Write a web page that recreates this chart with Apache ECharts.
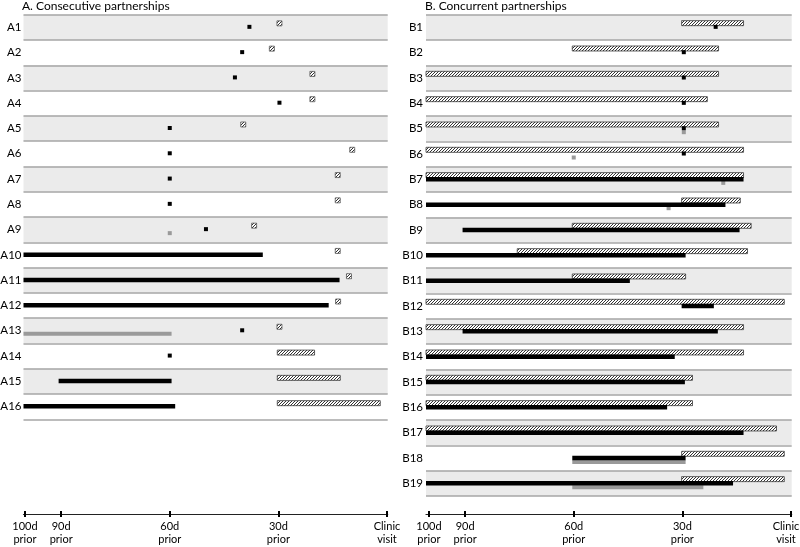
<!DOCTYPE html>
<html>
<head>
<meta charset="utf-8">
<script src="https://cdn.jsdelivr.net/npm/echarts@6/dist/echarts.min.js"></script>
<style>html,body{margin:0;padding:0;background:#fff;}#c{width:800px;height:547px;}</style>
</head>
<body>
<div id="c"></div>
<script>
// ---- Data (days before clinic visit) ----
const rowsA = ['A1','A2','A3','A4','A5','A6','A7','A8','A9','A10','A11','A12','A13','A14','A15','A16'];
const rowsB = ['B1','B2','B3','B4','B5','B6','B7','B8','B9','B10','B11','B12','B13','B14','B15','B16','B17','B18','B19'];
const tickDays = [100, 90, 60, 30, 0];
const tickLabels = ['100d\nprior', '90d\nprior', '60d\nprior', '30d\nprior', 'Clinic\nvisit'];

// Panel A
const blackSquaresA = [['A1',38],['A2',40],['A3',42],['A4',29.7],['A5',60],['A6',60],['A7',60],['A8',60],['A9',50],['A13',40],['A14',60]];
const graySquaresA = [['A9',60]];
const hatchSquaresA = [['A1',29.7],['A2',31.8],['A3',20.6],['A4',20.6],['A5',39.7],['A6',9.6],['A7',13.6],['A8',13.6],['A9',36.7],['A10',13.6],['A11',10.5],['A12',13.5],['A13',29.7]];
const blackBarsA = [['A10',100.4,34.3],['A11',100.4,13.1],['A12',100.4,16.1],['A15',90.7,59.5],['A16',100.4,58.5]];
const grayBarsA = [['A13',100.4,59.5]];
const hatchBarsA = [['A14',30.3,20],['A15',30.3,12.9],['A16',30.3,1.85]];

// Panel B
const blackSquaresB = [['B1',20.8],['B2',29.6],['B3',29.6],['B4',29.6],['B5',29.6],['B6',29.6]];
const graySquaresB = [['B5',29.6],['B6',60],['B7',18.7],['B8',33.8]];
const hatchBarsB = [['B1',30.2,13.1],['B2',60.4,20],['B3',100.8,20],['B4',100.8,23.1],['B5',100.8,20],['B6',100.8,13.1],['B7',100.8,13.1],['B8',30.2,14],['B9',60.4,11],['B10',75.6,12],['B11',60.4,29.1],['B12',100.8,1.85],['B13',100.8,13.1],['B14',100.8,13.1],['B15',100.8,27.2],['B16',100.8,27.2],['B17',100.8,4],['B18',30.2,1.85],['B19',30.2,1.85]];
const blackBarsB = [['B7',100.8,13.1],['B8',100.8,18.1],['B9',90.7,14.2],['B10',100.8,29.1],['B11',100.8,44.5],['B12',30.2,21.3],['B13',90.7,20.2],['B14',100.8,32.1],['B15',100.8,29.3],['B16',100.8,34.2],['B17',100.8,13.1],['B18',60.4,29.1],['B19',100.8,16]];
const grayBarsB = [['B18',60.4,29.1],['B19',60.4,24.2]];

// ---- Rendering ----
function makeHatch(){
  const c = document.createElement('canvas');
  c.width = 3; c.height = 3;
  const ctx = c.getContext('2d');
  ctx.fillStyle = '#fff'; ctx.fillRect(0,0,3,3);
  ctx.strokeStyle = '#333'; ctx.lineWidth = 1;
  ctx.beginPath();
  ctx.moveTo(0,3); ctx.lineTo(3,0);
  ctx.moveTo(-1,1); ctx.lineTo(1,-1);
  ctx.moveTo(2,4); ctx.lineTo(4,2);
  ctx.stroke();
  return c;
}
const hatch = {image: makeHatch(), repeat: 'repeat'};

const FONT = 'Lato';

function barSeries(rows, data, gi, offY, h, style){
  return {
    type: 'custom', xAxisIndex: gi*2, yAxisIndex: gi,
    data: data.map(d => [d[1], rows.indexOf(d[0]), d[2]]),
    renderItem: function(params, api){
      const p1 = api.coord([api.value(0), api.value(1)]);
      const p2 = api.coord([api.value(2), api.value(1)]);
      return {type:'rect', shape:{x:Math.min(p1[0],p2[0]), y:p1[1]+offY-h/2, width:Math.abs(p2[0]-p1[0]), height:h}, style: style};
    },
    silent: true, animation: false
  };
}
function squareSeries(rows, data, gi, offY, s, style){
  return {
    type: 'custom', xAxisIndex: gi*2, yAxisIndex: gi,
    data: data.map(d => [d[1], rows.indexOf(d[0])]),
    renderItem: function(params, api){
      const p = api.coord([api.value(0), api.value(1)]);
      return {type:'rect', shape:{x:p[0]-s/2, y:p[1]+offY-s/2, width:s, height:s}, style: style};
    },
    silent: true, animation: false
  };
}

const blackFill = {fill:'#000'};
const grayFill = {fill:'#9a9a9a'};
const hatchStyle = {fill: hatch, stroke:'#3a3a3a', lineWidth:0.8};
const hatchSqStyle = {fill: hatch, stroke:'#555', lineWidth:0.8};

function yAxisFor(rows, gi, margin){
  return {
    type:'category', gridIndex: gi, data: rows, inverse: true,
    axisLine:{show:false}, axisTick:{show:false},
    axisLabel:{margin: margin, fontSize: 11.5, color:'#000', fontFamily: FONT},
    splitArea:{show:true, areaStyle:{color:['#ebebeb','#ffffff']}},
    splitLine:{show:true, lineStyle:{color:'#a6a6a6', width:1.5}}
  };
}
function xAxesFor(gi, maxV, off, lastPad){
  return [{
    type:'value', gridIndex: gi, min:-0.2, max:maxV, inverse:true, position:'bottom', offset: off,
    splitLine:{show:false},
    axisLine:{show:true, lineStyle:{color:'#222', width:1.2}},
    axisTick:{show:true, customValues: tickDays, length:3, lineStyle:{color:'#000', width:2}},
    axisLabel:{show:true, customValues: tickDays, margin:6, fontSize:11, lineHeight:13, color:'#000', fontFamily: FONT,
      rich:{last:{fontSize:11, lineHeight:13, color:'#000', fontFamily: FONT, align:'center', padding:[0,lastPad,0,0]}},
      formatter: function(v){
        const i = tickDays.indexOf(Math.round(v));
        if (i < 0) return '';
        if (tickDays[i] === 0 && lastPad > 0) return tickLabels[i].split('\n').map(s => '{last|' + s + '}').join('\n');
        return tickLabels[i];
      }}
  },{
    type:'value', gridIndex: gi, min:-0.2, max:maxV, inverse:true, position:'bottom', offset: off,
    splitLine:{show:false}, axisLine:{show:false}, axisLabel:{show:false},
    axisTick:{show:true, inside:true, customValues: tickDays, length:3, lineStyle:{color:'#000', width:2}}
  }];
}

const chart = echarts.init(document.getElementById('c'), null, {renderer:'canvas'});
chart.setOption({
  backgroundColor:'#fff',
  animation:false,
  title:[
    {text:'A. Consecutive partnerships', left:22, top:0, padding:0, textStyle:{fontSize:12, fontWeight:'normal', color:'#000', fontFamily:FONT}},
    {text:'B. Concurrent partnerships', left:425, top:0, padding:0, textStyle:{fontSize:12, fontWeight:'normal', color:'#000', fontFamily:FONT}}
  ],
  grid:[
    {left:23.5, top:14.7, width:364.2, height:404.6, containLabel:false, outerBoundsMode:'none'},
    {left:426, top:14.7, width:365.7, height:481.3, containLabel:false, outerBoundsMode:'none'}
  ],
  xAxis: [].concat(xAxesFor(0, 100.4, 94.7, 0), xAxesFor(1, 100.8, 18, 10)),
  yAxis: [yAxisFor(rowsA, 0, 2), yAxisFor(rowsB, 1, 3)],
  series:[
    barSeries(rowsA, grayBarsA, 0, 3, 4, grayFill),
    squareSeries(rowsA, graySquaresA, 0, 3.5, 4, grayFill),
    barSeries(rowsA, hatchBarsA, 0, -3.5, 5, hatchStyle),
    barSeries(rowsA, blackBarsA, 0, -0.3, 4.5, blackFill),
    squareSeries(rowsA, hatchSquaresA, 0, -4, 5, hatchSqStyle),
    squareSeries(rowsA, blackSquaresA, 0, -0.5, 4, blackFill),

    barSeries(rowsB, grayBarsB, 1, 4, 4, grayFill),
    squareSeries(rowsB, graySquaresB, 1, 3.5, 4, grayFill),
    barSeries(rowsB, hatchBarsB, 1, -4.2, 5, hatchStyle),
    barSeries(rowsB, blackBarsB, 1, 0, 4.5, blackFill),
    squareSeries(rowsB, blackSquaresB, 1, -0.5, 4, blackFill)
  ]
});
</script>
</body>
</html>
